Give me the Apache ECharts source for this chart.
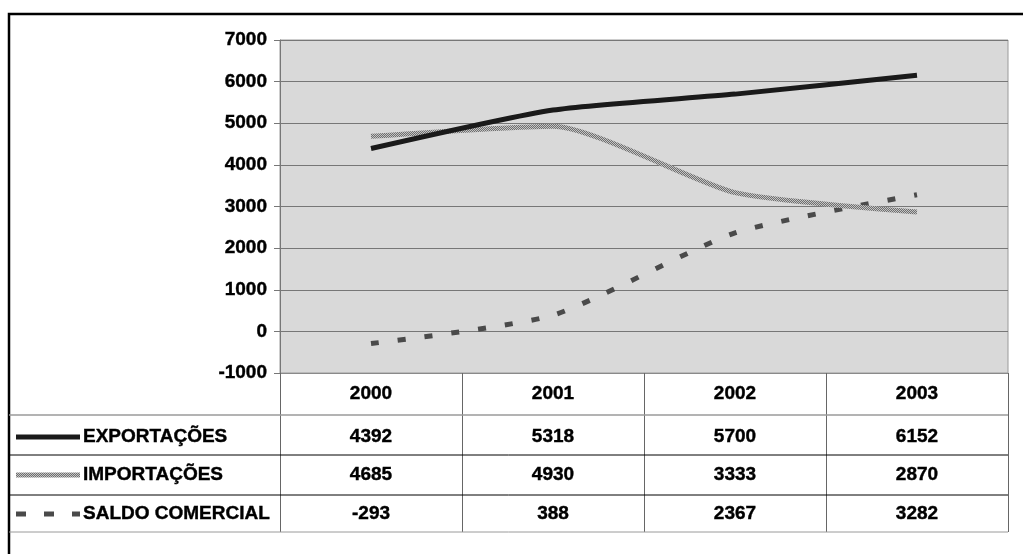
<!DOCTYPE html>
<html>
<head>
<meta charset="utf-8">
<script src="https://cdn.jsdelivr.net/npm/echarts@6/dist/echarts.min.js"></script>
<style>
html,body{margin:0;padding:0;background:#fff;}
#c{width:1023px;height:554px;}
</style>
</head>
<body>
<div id="c"></div>
<script>
var categories = ['2000', '2001', '2002', '2003'];
var seriesNames = ['EXPORTAÇÕES', 'IMPORTAÇÕES', 'SALDO COMERCIAL'];
var exportacoes = [4392, 5318, 5700, 6152];
var importacoes = [4685, 4930, 3333, 2870];
var saldo = [-293, 388, 2367, 3282];
var yTicks = { min: -1000, max: 7000, interval: 1000 };

var FONT = '"Liberation Sans", Arial, sans-serif';

// hatched pattern for importações
var pc = document.createElement('canvas');
pc.width = 2; pc.height = 2;
var pctx = pc.getContext('2d');
pctx.fillStyle = '#6e6e6e'; pctx.fillRect(0,0,2,2);
pctx.fillStyle = '#c4c4c4'; pctx.fillRect(0,0,1,1); pctx.fillRect(1,1,1,1);
var hatch = { image: pc, repeat: 'repeat' };

var styles = [
  { color: '#1a1a1a', width: 5, type: 'solid' },
  { color: hatch, width: 5, type: 'solid' },
  { color: '#4a4a4a', width: 5, type: [8, 19] }
];
var dataRows = [exportacoes, importacoes, saldo];

var boldText = { color: '#000', fontFamily: FONT, fontWeight: 'bold', fontSize: 19, textBorderColor: '#000', textBorderWidth: 0.4 };

var chart = echarts.init(document.getElementById('c'));
var option = {
  animation: false,
  grid: { left: 280, top: 40, right: 15, bottom: 181, show: true, backgroundColor: '#d9d9d9', borderColor: '#9a9a9a', borderWidth: 1 },
  xAxis: {
    type: 'category', data: categories, boundaryGap: true,
    axisLine: { show: true, onZero: false, lineStyle: { color: '#8a8a8a', width: 1 } },
    axisTick: { show: true, length: 159, lineStyle: { color: '#666', width: 1 } },
    axisLabel: Object.assign({ margin: 11 }, boldText),
    splitLine: { show: false }
  },
  yAxis: {
    type: 'value', min: yTicks.min, max: yTicks.max, interval: yTicks.interval,
    axisLine: { show: true, lineStyle: { color: '#777', width: 1 } },
    axisTick: { show: true, length: 6, lineStyle: { color: '#777' } },
    axisLabel: Object.assign({ margin: 13, formatter: function (v) { return String(v); } }, boldText),
    splitLine: { show: true, lineStyle: { color: '#777', width: 1 } }
  },
  series: dataRows.map(function (d, i) {
    return {
      name: seriesNames[i], type: 'line', data: d, smooth: 0.2,
      symbol: 'none',
      lineStyle: { color: styles[i].color, width: styles[i].width, type: styles[i].type, cap: 'butt' },
      z: 3 - i + 2
    };
  })
};
chart.setOption(option);

// data table built from the arrays
var rowLines = [415, 455, 495, 532];
var rowCenters = [437, 475, 514];
var tableLeft = 9, tableRight = 1008;
var g = [];
g.push({ type: 'rect', shape: { x: 9, y: 14, width: 1040, height: 600 }, style: { fill: 'none', stroke: '#000', lineWidth: 2.5 }, z: 10 });
rowLines.forEach(function (y, i) {
  var col = (i === 0 || i === 3) ? '#9a9a9a' : '#000';
  g.push({ type: 'line', shape: { x1: tableLeft, y1: y, x2: tableRight, y2: y }, style: { stroke: col, lineWidth: (i === 0 ? 1.5 : 1) }, z: 10 });
});
seriesNames.forEach(function (n, i) {
  var y = rowCenters[i];
  g.push({ type: 'line', shape: { x1: 16, y1: y, x2: 80, y2: y }, style: { stroke: styles[i].color, lineWidth: 5, lineDash: (i === 2 ? [10, 18] : null), lineCap: 'butt' }, z: 10 });
  g.push({ type: 'text', x: 83, y: y, style: { text: n, font: 'bold 19px ' + FONT, fill: '#000', stroke: '#000', lineWidth: 0.4, verticalAlign: 'middle', align: 'left' }, z: 10 });
  dataRows[i].forEach(function (v, j) {
    var px = chart.convertToPixel({ xAxisIndex: 0 }, categories[j]);
    g.push({ type: 'text', x: px, y: y, style: { text: String(v), font: 'bold 19px ' + FONT, fill: '#000', stroke: '#000', lineWidth: 0.4, align: 'center', verticalAlign: 'middle' }, z: 10 });
  });
});
chart.setOption({ graphic: g });
</script>
</body>
</html>
